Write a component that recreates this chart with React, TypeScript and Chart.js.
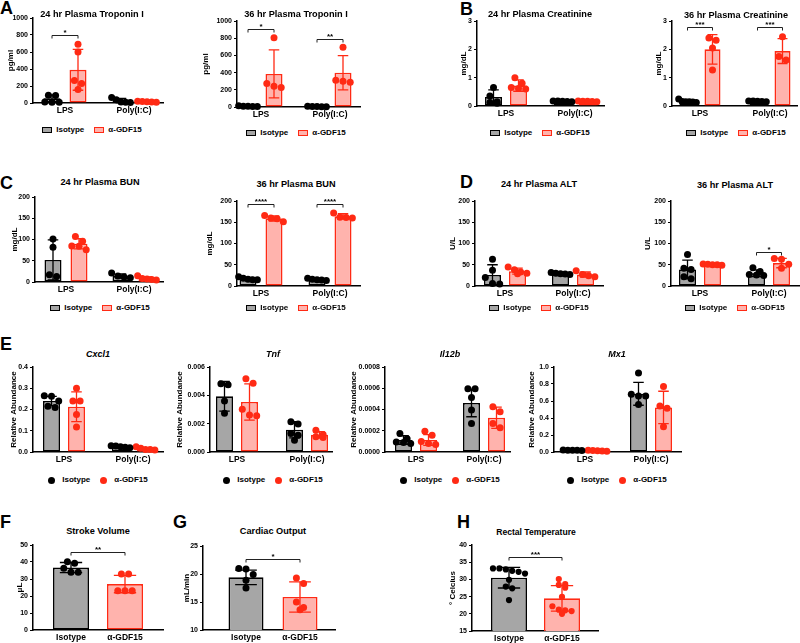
import React, { useEffect, useRef } from 'react';
import { Chart, registerables } from 'chart.js';

Chart.register(...registerables);

const FONT = '"Liberation Sans", Arial, Helvetica, sans-serif';
const GRAY = '#a6a6a6';
const PINK = '#ffb3ad';
const BLACK = '#000000';
const RED = '#ff2a14';
const FILLS = [GRAY, PINK];
const EDGES = [BLACK, RED];

// ---------- categories ----------
const infections = ['LPS', 'Poly(I:C)'];
const treatments = ['Isotype', 'α-GDF15'];

// ---------- y axes: [min, max, step] ----------
const tropIAxis = [0, 1000, 200];
const creatAxis = [0, 3, 1];
const bunAxis = [0, 200, 50];
const altAxis = [0, 200, 50];
const cxcl1Axis = [0, 0.4, 0.1];
const tnfAxis = [0, 0.006, 0.002];
const il12bAxis = [0, 0.0008, 0.0002];
const mx1Axis = [0, 1, 0.2];
const strokeAxis = [0, 50, 10];
const cardiacAxis = [10, 25, 5];
const tempAxis = [15, 40, 5];

// ---------- data: [group][series] (means, SD) and [group][series][points] ----------
const tropI24Mean = [[55, 390], [30, 15]];
const tropI24Sd = [[40, 240], [25, 5]];
const tropI24Pts = [[[92, 88, 12, 8, 10], [690, 600, 265, 230, 160]], [[65, 38, 12, 8, 5], [20, 14, 18, 10, 12]]];

const tropI36Mean = [[10, 385], [5, 398]];
const tropI36Sd = [[5, 280], [3, 200]];
const tropI36Pts = [[[15, 10, 8, 5, 6], [805, 272, 241, 226]], [[8, 5, 3, 5, 4], [696, 311, 300, 288]]];

const creat24Mean = [[0.32, 0.72], [0.17, 0.17]];
const creat24Sd = [[0.25, 0.2], [0.02, 0.02]];
const creat24Pts = [[[0.65, 0.35, 0.12, 0.1, 0.15], [1.0, 0.8, 0.62, 0.6, 0.65]], [[0.18, 0.17, 0.16, 0.18, 0.15], [0.18, 0.17, 0.16, 0.17, 0.15]]];

const creat36Mean = [[0.17, 2.0], [0.17, 1.94]];
const creat36Sd = [[0.04, 0.52], [0.02, 0.44]];
const creat36Pts = [[[0.25, 0.15, 0.15, 0.12, 0.16, 0.14], [2.32, 2.4, 2.05, 1.27]], [[0.18, 0.17, 0.16, 0.18, 0.15], [2.44, 1.62, 1.75]]];

const bun24Mean = [[52, 90], [14, 8]];
const bun24Sd = [[47, 12], [5, 4]];
const bun24Pts = [[[101, 82, 13, 17], [107, 96, 85, 76, 84]], [[21, 14, 12, 10], [15, 8, 6, 5, 7]]];

const bun36Mean = [[17, 159], [15, 164]];
const bun36Sd = [[3, 6], [2, 6]];
const bun36Pts = [[[22, 18, 15, 15, 16], [166, 151, 158, 160]], [[18, 16, 15, 14, 13], [172, 162, 160, 161]]];

const alt24Mean = [[26, 35], [29, 27]];
const alt24Sd = [[24, 7], [3, 6]];
const alt24Pts = [[[63, 37, 20, 6, 5], [45, 38, 33, 30, 29]], [[32, 30, 29, 28, 27], [36, 27, 24, 22]]];

const alt36Mean = [[39, 51], [30, 54]];
const alt36Sd = [[22, 2], [8, 11]];
const alt36Pts = [[[74, 42, 39, 22, 17], [52, 51, 50, 50, 49]], [[43, 34, 27, 26, 25], [65, 63, 51, 42]]];

const cxcl1Mean = [[0.24, 0.213], [0.025, 0.016]];
const cxcl1Sd = [[0.022, 0.07], [0.004, 0.005]];
const cxcl1Pts = [[[0.265, 0.262, 0.24, 0.215, 0.21], [0.3, 0.24, 0.24, 0.177, 0.118]], [[0.03, 0.028, 0.025, 0.02, 0.022], [0.025, 0.018, 0.012, 0.01, 0.012]]];

const tnfMean = [[0.00393, 0.00353], [0.00157, 0.00121]];
const tnfSd = [[0.00105, 0.00128], [0.00057, 0.00023]];
const tnfPts = [[[0.00474, 0.00481, 0.0036, 0.00273], [0.00517, 0.00486, 0.00301, 0.00261, 0.00256]], [[0.00213, 0.00197, 0.0013, 0.00119, 0.00083], [0.00154, 0.00123, 0.00107, 0.00102]]];

const il12bMean = [[0.000113, 0.000113], [0.000462, 0.000323]];
const il12bSd = [[0.00004, 0.00005], [0.00013, 0.0001]];
const il12bPts = [[[0.000175, 0.000125, 0.000095, 0.00008, 0.00009], [0.000195, 0.000158, 0.0001, 0.00008, 0.00007]], [[0.000595, 0.000595, 0.000512, 0.000395, 0.000269], [0.00038, 0.000427, 0.000269, 0.000228]]];

const mx1Mean = [[0.02, 0.015], [0.685, 0.525]];
const mx1Sd = [[0.003, 0.004], [0.135, 0.19]];
const mx1Pts = [[[0.025, 0.02, 0.02, 0.022, 0.018], [0.02, 0.018, 0.015, 0.01, 0.012]], [[0.93, 0.68, 0.66, 0.66, 0.56], [0.771, 0.54, 0.514, 0.296]]];

const strokeMean = [[36.7], [27.0]];
const strokeSd = [[3.0], [5.1]];
const strokePts = [[[40.2, 39.2, 36.3, 33.9, 33.9]], [[32.9, 32.9, 23.1, 23.1, 23.1]]];

const cardiacMean = [[19.4], [15.9]];
const cardiacSd = [[1.3], [2.7]];
const cardiacPts = [[[20.9, 21.0, 19.9, 18.9, 17.5]], [[19.3, 18.3, 15.0, 14.0, 13.6]]];

const tempMean = [[30.5], [24.5]];
const tempSd = [[3.0], [3.7]];
const tempPts = [[[32.2, 33.2, 32.5, 32.9, 33.2, 31.7, 29.9, 27.4, 27.9, 24.0]], [[30.1, 27.6, 28.6, 28.4, 24.9, 22.2, 21.2, 20.8, 21.0, 20.0]]];

// ---------- layout ----------
type Bracket = { g0: number; k0: number; g1: number; k1: number; y: number; text: string };
type Spec = {
  key: string;
  title: string; italic?: boolean; tcx: number; tcy: number; tfs: number;
  groups: string[]; single: boolean;
  mean: number[][]; sd: number[][]; pts: number[][][];
  axis: number[]; dec: number; yTitle: string; ytx: number;
  ax: number; ar: number; yt: number; yb: number; c0: number; c1: number;
  barPx: number; sepPx: number; r: number;
  brackets: Bracket[];
  legend: 'box' | 'dot' | null; lcy: number;
};

const TF = 9.2;
const specs: Spec[] = [
  { key: 'a1', title: '24 hr Plasma Troponin I', tcx: 92, tcy: 14, tfs: TF, groups: infections, single: false,
    mean: tropI24Mean, sd: tropI24Sd, pts: tropI24Pts, axis: tropIAxis, dec: 0, yTitle: 'pg/ml', ytx: 11,
    ax: 33, ar: 163, yt: 18, yb: 103, c0: 65, c1: 134, barPx: 17, sepPx: 26, r: 3.5,
    brackets: [{ g0: 0, k0: 0, g1: 0, k1: 1, y: 805, text: '*' }], legend: 'box', lcy: 130 },
  { key: 'a2', title: '36 hr Plasma Troponin I', tcx: 296, tcy: 14, tfs: TF, groups: infections, single: false,
    mean: tropI36Mean, sd: tropI36Sd, pts: tropI36Pts, axis: tropIAxis, dec: 0, yTitle: 'pg/ml', ytx: 206,
    ax: 237, ar: 360, yt: 21, yb: 107, c0: 261, c1: 330, barPx: 17, sepPx: 26, r: 3.5,
    brackets: [{ g0: 0, k0: 0, g1: 0, k1: 1, y: 903, text: '*' }, { g0: 1, k0: 0, g1: 1, k1: 1, y: 786, text: '**' }], legend: 'box', lcy: 133 },
  { key: 'b1', title: '24 hr Plasma Creatinine', tcx: 540, tcy: 14, tfs: TF, groups: infections, single: false,
    mean: creat24Mean, sd: creat24Sd, pts: creat24Pts, axis: creatAxis, dec: 0, yTitle: 'mg/dL', ytx: 464,
    ax: 477, ar: 604, yt: 21, yb: 106, c0: 506, c1: 575, barPx: 17, sepPx: 25, r: 3.5,
    brackets: [], legend: 'box', lcy: 133 },
  { key: 'b2', title: '36 hr Plasma Creatinine', tcx: 736, tcy: 15, tfs: TF, groups: infections, single: false,
    mean: creat36Mean, sd: creat36Sd, pts: creat36Pts, axis: creatAxis, dec: 0, yTitle: 'mg/dL', ytx: 659,
    ax: 672, ar: 797, yt: 21, yb: 106, c0: 700, c1: 770, barPx: 16, sepPx: 25, r: 3.5,
    brackets: [{ g0: 0, k0: 0, g1: 0, k1: 1, y: 2.79, text: '***' }, { g0: 1, k0: 0, g1: 1, k1: 1, y: 2.79, text: '***' }], legend: 'box', lcy: 133 },
  { key: 'c1', title: '24 hr Plasma BUN', tcx: 100, tcy: 182, tfs: TF, groups: infections, single: false,
    mean: bun24Mean, sd: bun24Sd, pts: bun24Pts, axis: bunAxis, dec: 0, yTitle: 'mg/dL', ytx: 15,
    ax: 35, ar: 163, yt: 197, yb: 282, c0: 66, c1: 134, barPx: 17, sepPx: 26, r: 3.5,
    brackets: [], legend: 'box', lcy: 308 },
  { key: 'c2', title: '36 hr Plasma BUN', tcx: 296, tcy: 184, tfs: TF, groups: infections, single: false,
    mean: bun36Mean, sd: bun36Sd, pts: bun36Pts, axis: bunAxis, dec: 0, yTitle: 'mg/dL', ytx: 210,
    ax: 237, ar: 360, yt: 201, yb: 286, c0: 261, c1: 330, barPx: 17, sepPx: 26, r: 3.5,
    brackets: [{ g0: 0, k0: 0, g1: 0, k1: 1, y: 194, text: '****' }, { g0: 1, k0: 0, g1: 1, k1: 1, y: 194, text: '****' }], legend: 'box', lcy: 308 },
  { key: 'd1', title: '24 hr Plasma ALT', tcx: 539, tcy: 184, tfs: TF, groups: infections, single: false,
    mean: alt24Mean, sd: alt24Sd, pts: alt24Pts, axis: altAxis, dec: 0, yTitle: 'U/L', ytx: 453,
    ax: 475, ar: 603, yt: 201, yb: 286, c0: 505, c1: 573, barPx: 17, sepPx: 25, r: 3.5,
    brackets: [], legend: 'box', lcy: 308 },
  { key: 'd2', title: '36 hr Plasma ALT', tcx: 735, tcy: 185, tfs: TF, groups: infections, single: false,
    mean: alt36Mean, sd: alt36Sd, pts: alt36Pts, axis: altAxis, dec: 0, yTitle: 'U/L', ytx: 648,
    ax: 671, ar: 799, yt: 201, yb: 286, c0: 700, c1: 769, barPx: 17, sepPx: 25, r: 3.5,
    brackets: [{ g0: 1, k0: 0, g1: 1, k1: 1, y: 79, text: '*' }], legend: 'box', lcy: 308 },
  { key: 'e1', title: 'Cxcl1', italic: true, tcx: 98, tcy: 353, tfs: 9, groups: infections, single: false,
    mean: cxcl1Mean, sd: cxcl1Sd, pts: cxcl1Pts, axis: cxcl1Axis, dec: 1, yTitle: 'Relative Abundance', ytx: 14,
    ax: 33, ar: 163, yt: 367, yb: 452, c0: 64, c1: 133, barPx: 17, sepPx: 25, r: 3.5,
    brackets: [], legend: 'dot', lcy: 480 },
  { key: 'e2', title: 'Tnf', italic: true, tcx: 273, tcy: 353, tfs: 9, groups: infections, single: false,
    mean: tnfMean, sd: tnfSd, pts: tnfPts, axis: tnfAxis, dec: 3, yTitle: 'Relative Abundance', ytx: 180,
    ax: 210, ar: 332, yt: 367, yb: 452, c0: 237, c1: 307, barPx: 17, sepPx: 25, r: 3.5,
    brackets: [], legend: 'dot', lcy: 480 },
  { key: 'e3', title: 'Il12b', italic: true, tcx: 450, tcy: 353, tfs: 9, groups: infections, single: false,
    mean: il12bMean, sd: il12bSd, pts: il12bPts, axis: il12bAxis, dec: 4, yTitle: 'Relative Abundance', ytx: 354,
    ax: 385, ar: 510, yt: 367, yb: 452, c0: 416, c1: 484, barPx: 17, sepPx: 25, r: 3.5,
    brackets: [], legend: 'dot', lcy: 480 },
  { key: 'e4', title: 'Mx1', italic: true, tcx: 617, tcy: 353, tfs: 9, groups: infections, single: false,
    mean: mx1Mean, sd: mx1Sd, pts: mx1Pts, axis: mx1Axis, dec: 1, yTitle: 'Relative Abundance', ytx: 532,
    ax: 554, ar: 681, yt: 367, yb: 452, c0: 585, c1: 651, barPx: 17, sepPx: 25, r: 3.5,
    brackets: [], legend: 'dot', lcy: 480 },
  { key: 'f', title: 'Stroke Volume', tcx: 98, tcy: 531, tfs: TF, groups: treatments, single: true,
    mean: strokeMean, sd: strokeSd, pts: strokePts, axis: strokeAxis, dec: 0, yTitle: 'μL', ytx: 20,
    ax: 33, ar: 163, yt: 545, yb: 630, c0: 71, c1: 125, barPx: 36, sepPx: 0, r: 3.5,
    brackets: [{ g0: 0, k0: 0, g1: 1, k1: 0, y: 46, text: '**' }], legend: null, lcy: 0 },
  { key: 'g', title: 'Cardiac Output', tcx: 273, tcy: 531, tfs: TF, groups: treatments, single: true,
    mean: cardiacMean, sd: cardiacSd, pts: cardiacPts, axis: cardiacAxis, dec: 0, yTitle: 'mL/min', ytx: 187,
    ax: 203, ar: 335, yt: 546, yb: 630, c0: 246, c1: 300, barPx: 35, sepPx: 0, r: 3.5,
    brackets: [{ g0: 0, k0: 0, g1: 1, k1: 0, y: 22.6, text: '*' }], legend: null, lcy: 0 },
  { key: 'h', title: 'Rectal Temperature', tcx: 536, tcy: 531, tfs: 8.6, groups: treatments, single: true,
    mean: tempMean, sd: tempSd, pts: tempPts, axis: tempAxis, dec: 0, yTitle: '° Celcius', ytx: 453,
    ax: 472, ar: 598, yt: 545, yb: 631, c0: 509, c1: 562, barPx: 36, sepPx: 0, r: 3.1,
    brackets: [{ g0: 0, k0: 0, g1: 1, k1: 0, y: 36.6, text: '***' }], legend: null, lcy: 0 },
];

const letters = [
  { t: 'A', x: 0, y: 7 }, { t: 'B', x: 460, y: 8 }, { t: 'C', x: 0, y: 182 }, { t: 'D', x: 460, y: 181 },
  { t: 'E', x: 0, y: 343 }, { t: 'F', x: 0, y: 521 }, { t: 'G', x: 173, y: 521 }, { t: 'H', x: 457, y: 521 },
];

// place points of one bar in rows (scatter-dot style); returns pixel x offsets
function spreadOffsets(vals: number[], toPx: (v: number) => number, D: number, maxSpan: number): number[] {
  const idx = vals.map((v, i) => i).sort((a, b) => vals[b] - vals[a]);
  const out = new Array(vals.length).fill(0);
  let row: number[] = [];
  const flush = () => {
    const n = row.length;
    const step = n > 1 ? Math.min(D, maxSpan / (n - 1)) : 0;
    row.forEach((i, j) => { out[i] = (j - (n - 1) / 2) * step; });
    row = [];
  };
  idx.forEach((i) => {
    if (row.length && Math.abs(toPx(vals[row[0]]) - toPx(vals[i])) >= D * 0.9) flush();
    row.push(i);
  });
  flush();
  return out;
}

function Plot({ s }: { s: Spec }) {
  const ref = useRef<HTMLCanvasElement | null>(null);
  const lh = 8 * 1.2;
  const cl = Math.round(s.ytx - lh / 2);
  const yw = s.ax - cl;
  const padTop = 8, padR = 4, xh = 18;
  const ct = s.yt - padTop;
  const cw = s.ar + padR - cl;
  const ch = s.yb + xh - ct;

  useEffect(() => {
    if (!ref.current) return;
    const [yMin, yMax, yStep] = s.axis;
    const spacing = s.c1 - s.c0;
    const xMin = -(s.c0 - s.ax) / spacing;
    const xMax = 1 + (s.ar - s.c1) / spacing;
    const nSeries = s.single ? 1 : 2;
    const cp = s.single ? 1 : (2 * s.sepPx) / spacing;
    const bp = s.single ? s.barPx / spacing : s.barPx / s.sepPx;
    const colorIdx = (g: number, k: number) => (s.single ? g : k);
    const plotH = s.yb - s.yt;
    const toPx = (v: number) => ((v - yMin) / (yMax - yMin)) * plotH;

    const datasets: any[] = [];
    for (let k = 0; k < nSeries; k++) {
      datasets.push({
        type: 'bar',
        label: s.single ? s.title : treatments[k],
        data: s.groups.map((_, g) => ({ x: g, y: s.mean[g][k] })),
        backgroundColor: s.groups.map((_, g) => FILLS[colorIdx(g, k)]),
        borderColor: s.groups.map((_, g) => EDGES[colorIdx(g, k)]),
        borderWidth: 1.6,
        borderSkipped: false,
        categoryPercentage: cp,
        barPercentage: bp,
        order: 2,
      });
    }
    const D = s.r * 2 + 0.2;
    for (let k = 0; k < nSeries; k++) {
      for (let g = 0; g < s.groups.length; g++) {
        const vals = s.pts[g][k];
        const off = s.single ? 0 : ((k === 0 ? -1 : 1) * s.sepPx) / 2 / spacing;
        const dxs = spreadOffsets(vals, toPx, D, s.barPx * 1.1);
        datasets.push({
          type: 'scatter',
          label: 'pts',
          data: vals.map((v, i) => ({ x: g + off + dxs[i] / spacing, y: v })),
          backgroundColor: EDGES[colorIdx(g, k)],
          borderWidth: 0,
          pointRadius: s.r,
          clip: false,
          order: 1,
        });
      }
    }

    const errPlugin = {
      id: 'errbars',
      afterDatasetDraw(chart: any, args: any) {
        const k = args.index;
        if (k >= nSeries) return;
        const yS = chart.scales.y;
        const ctx = chart.ctx;
        args.meta.data.forEach((el: any, g: number) => {
          const m = s.mean[g][k], sd = s.sd[g][k];
          const top = yS.getPixelForValue(m + sd);
          const lowV = m - sd;
          const bot = yS.getPixelForValue(Math.max(lowV, yMin));
          const cap = (el.width * 0.62) / 2;
          ctx.save();
          ctx.strokeStyle = EDGES[colorIdx(g, k)];
          ctx.lineWidth = 1.3;
          ctx.beginPath();
          ctx.moveTo(el.x, top);
          ctx.lineTo(el.x, bot);
          ctx.moveTo(el.x - cap, top);
          ctx.lineTo(el.x + cap, top);
          if (lowV > yMin) {
            ctx.moveTo(el.x - cap, bot);
            ctx.lineTo(el.x + cap, bot);
          }
          ctx.stroke();
          ctx.restore();
        });
      },
    };
    const bracketPlugin = {
      id: 'brackets',
      afterDraw(chart: any) {
        const yS = chart.scales.y;
        const ctx = chart.ctx;
        s.brackets.forEach((b) => {
          const x0 = chart.getDatasetMeta(s.single ? 0 : b.k0).data[b.g0].x;
          const x1 = chart.getDatasetMeta(s.single ? 0 : b.k1).data[b.g1].x;
          const y = Math.round(yS.getPixelForValue(b.y)) + 0.5;
          ctx.save();
          ctx.strokeStyle = '#222';
          ctx.lineWidth = 1;
          ctx.beginPath();
          ctx.moveTo(x0, y + 3);
          ctx.lineTo(x0, y);
          ctx.lineTo(x1, y);
          ctx.lineTo(x1, y + 3);
          ctx.stroke();
          ctx.fillStyle = '#000';
          ctx.font = `bold 8px ${FONT}`;
          ctx.textAlign = 'center';
          ctx.textBaseline = 'alphabetic';
          ctx.fillText(b.text, (x0 + x1) / 2, y - 1);
          ctx.restore();
        });
      },
    };

    const chart = new Chart(ref.current, {
      type: 'bar',
      data: { datasets },
      plugins: [errPlugin, bracketPlugin],
      options: {
        animation: false,
        responsive: false,
        events: [],
        layout: { padding: { left: 0, right: padR, top: padTop, bottom: 0 } },
        plugins: { legend: { display: false }, title: { display: false }, tooltip: { enabled: false } },
        scales: {
          x: {
            type: 'linear',
            min: xMin,
            max: xMax,
            offset: false,
            afterBuildTicks: (sc: any) => { sc.ticks = s.groups.map((_, i) => ({ value: i })); },
            afterFit: (sc: any) => { sc.height = xh; },
            grid: { display: false, drawTicks: false },
            border: { display: true, color: '#000', width: 1.5 },
            ticks: {
              color: '#000', font: { family: FONT, size: 8.5, weight: 'bold' }, padding: 3,
              maxRotation: 0, autoSkip: false,
              callback: (v: any) => s.groups[Math.round(Number(v))] ?? '',
            },
          },
          y: {
            type: 'linear',
            min: yMin,
            max: yMax,
            afterFit: (sc: any) => { sc.width = yw; },
            grid: { display: true, drawOnChartArea: false, drawTicks: true, tickLength: 3, color: '#000', lineWidth: 1 },
            border: { display: true, color: '#000', width: 1.5 },
            ticks: {
              stepSize: yStep, color: '#000', font: { family: FONT, size: 7, weight: 'bold' }, padding: 2,
              callback: (v: any) => Number(v).toFixed(s.dec),
            },
            title: { display: true, text: s.yTitle, color: '#000', font: { family: FONT, size: 8, weight: 'bold' }, padding: 0 },
          },
        },
      } as any,
    } as any);
    return () => chart.destroy();
  }, []);

  return (
    <canvas ref={ref} width={cw} height={ch}
      style={{ position: 'absolute', left: cl, top: ct, width: cw, height: ch }} />
  );
}

function Title({ s }: { s: Spec }) {
  return (
    <div style={{ position: 'absolute', left: s.tcx - 100, width: 200, top: s.tcy - s.tfs / 2, height: s.tfs,
      lineHeight: 1, textAlign: 'center', font: `${s.italic ? 'italic ' : ''}bold ${s.tfs}px ${FONT}`, whiteSpace: 'nowrap' }}>
      {s.title}
    </div>
  );
}

function Legend({ s }: { s: Spec }) {
  if (!s.legend) return null;
  return (
    <div style={{ position: 'absolute', left: s.tcx - 80, width: 160, top: s.lcy - 6, height: 12, display: 'flex',
      justifyContent: 'center', alignItems: 'center', gap: 10, font: `bold 8px ${FONT}`, lineHeight: 1 }}>
      {treatments.map((t, k) => (
        <div key={t} style={{ display: 'flex', alignItems: 'center', gap: s.legend === 'box' ? 4 : 7 }}>
          {s.legend === 'box' ? (
            <span style={{ display: 'inline-block', width: 8, height: 4, background: FILLS[k], border: `1.6px solid ${EDGES[k]}` }} />
          ) : (
            <span style={{ display: 'inline-block', width: 7, height: 7, borderRadius: '50%', background: EDGES[k] }} />
          )}
          <span>{t}</span>
        </div>
      ))}
    </div>
  );
}

export default function App() {
  return (
    <div style={{ position: 'absolute', left: 0, top: 0, width: 800, height: 643, overflow: 'hidden', background: '#fff', color: '#000' }}>
      {letters.map((l) => (
        <div key={l.t} style={{ position: 'absolute', left: l.x, top: l.y - 9, height: 18, lineHeight: 1, font: `bold 18px ${FONT}` }}>{l.t}</div>
      ))}
      {specs.map((s) => (
        <React.Fragment key={s.key}>
          <Plot s={s} />
          <Title s={s} />
          <Legend s={s} />
        </React.Fragment>
      ))}
    </div>
  );
}
